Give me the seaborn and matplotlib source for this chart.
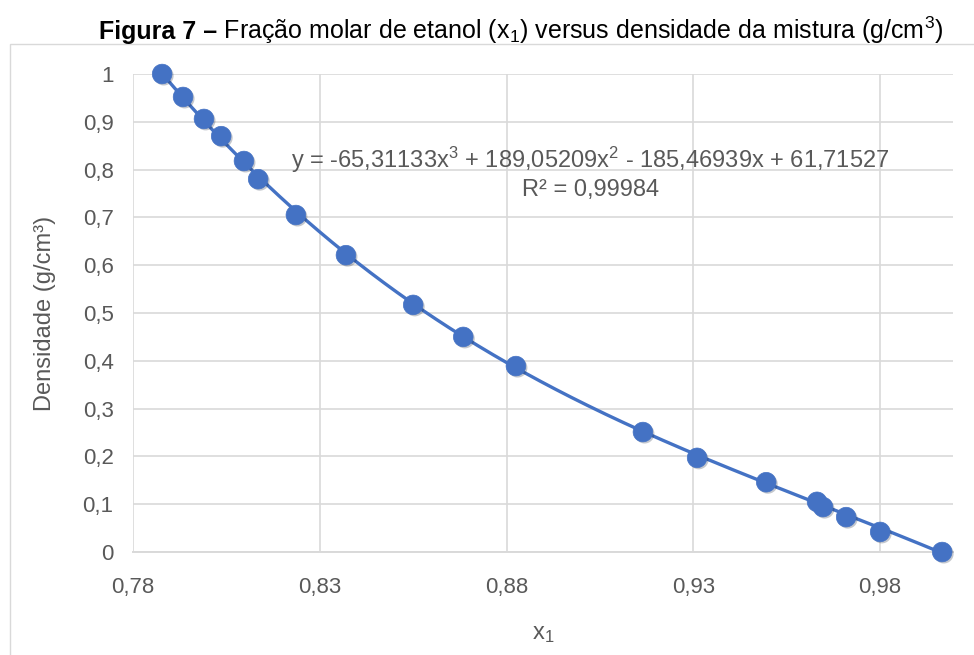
import numpy as np
import pandas as pd
import matplotlib
matplotlib.use("Agg")
import matplotlib.pyplot as plt
import matplotlib.patheffects as pe
from matplotlib.ticker import FixedLocator, FuncFormatter
import seaborn as sns

# ---- data ----
x1 = [0.7878, 0.7934, 0.7990, 0.8036, 0.8097, 0.8135, 0.8236, 0.8370, 0.8550,
      0.8684, 0.8825, 0.9165, 0.9310, 0.9495, 0.9631, 0.9647, 0.9709, 0.9800, 0.9966]
densidade = [1.000, 0.952, 0.906, 0.870, 0.818, 0.780, 0.705, 0.621, 0.517,
             0.450, 0.389, 0.251, 0.197, 0.146, 0.105, 0.094, 0.073, 0.042, 0.000]
coef = [-65.31133, 189.05209, -185.46939, 61.71527]
x_ticks = [0.78, 0.83, 0.88, 0.93, 0.98]
y_ticks = [0, 0.1, 0.2, 0.3, 0.4, 0.5, 0.6, 0.7, 0.8, 0.9, 1.0]
eq_text = "y = -65,31133x$^3$ + 189,05209x$^2$ - 185,46939x + 61,71527\nR² = 0,99984"
title_bold = "Figura 7 –"
title_rest = " Fração molar de etanol (x$_1$) versus densidade da mistura (g/cm$^3$)"

sns.set_theme(style="white")
plt.rcParams['font.family'] = ['Liberation Sans', 'DejaVu Sans']
plt.rcParams['mathtext.fontset'] = 'custom'
plt.rcParams['mathtext.rm'] = 'Liberation Sans'
plt.rcParams['mathtext.it'] = 'Liberation Sans'
plt.rcParams['mathtext.bf'] = 'Liberation Sans:bold'
plt.rcParams['mathtext.default'] = 'regular'

BLUE = "#4472C4"
GRID = "#D9D9D9"
TXT = "#595959"

df = pd.DataFrame({"x1": x1, "dens": densidade})
xs = np.linspace(min(x1), max(x1), 300)
curve = pd.DataFrame({"x": xs, "y": np.polyval(coef, xs)})

fig = plt.figure(figsize=(9.74, 6.55), dpi=100)
# chart frame
fig.patches.append(plt.Rectangle((10/974, -0.1), 1.2, 1 - 44/655 + 0.1,
                                 transform=fig.transFigure, fill=False,
                                 edgecolor=GRID, linewidth=1.0))
ax = fig.add_axes([133/974, 1 - 552/655, (953 - 133)/974, (552 - 74)/655])

sns.lineplot(data=curve, x="x", y="y", ax=ax, color=BLUE, linewidth=2.4, zorder=2)
sns.scatterplot(data=df, x="x1", y="dens", ax=ax, color=BLUE, s=200,
                edgecolor=BLUE, linewidth=0.5, zorder=3, clip_on=False,
                path_effects=[pe.SimplePatchShadow(offset=(1.2, -1.2), alpha=0.25),
                              pe.Normal()])

ax.set_xlim(0.78, 0.9995)
ax.set_ylim(0, 1.0)
ax.xaxis.set_major_locator(FixedLocator(x_ticks))
ax.yaxis.set_major_locator(FixedLocator(y_ticks))
ax.xaxis.set_major_formatter(FuncFormatter(lambda v, p: f"{v:.2f}".replace(".", ",")))
ax.yaxis.set_major_formatter(FuncFormatter(
    lambda v, p: "0" if abs(v) < 1e-9 else ("1" if abs(v - 1) < 1e-9 else f"{v:.1f}".replace(".", ","))))
ax.grid(True, color=GRID, linewidth=1.2)
ax.set_axisbelow(True)
for s in ["top", "right", "left"]:
    ax.spines[s].set_visible(False)
ax.spines["bottom"].set_color(GRID)
ax.spines["bottom"].set_linewidth(1.4)
ax.tick_params(axis="both", length=0, labelsize=16, labelcolor=TXT)
ax.tick_params(axis="x", pad=18)
ax.tick_params(axis="y", pad=14)

ax.set_xlabel("x$_1$", fontsize=17, color=TXT, labelpad=18)
ax.set_ylabel("Densidade (g/cm³)", fontsize=17, color=TXT, labelpad=19)

ax.text(0.9024, 0.793, eq_text, ha="center", va="center", fontsize=17,
        color=TXT, linespacing=1.25)

# title with bold prefix
t1 = fig.text(0, 0, title_bold, fontsize=18, fontweight="bold", color="black")
t2 = fig.text(0, 0, title_rest, fontsize=18, color="black")
fig.canvas.draw()
r = fig.canvas.get_renderer()
w1 = t1.get_window_extent(r).width
w2 = t2.get_window_extent(r).width
W = fig.bbox.width
start = 521 - (w1 + w2) / 2
ty = 1 - 39/655
t1.set_position((start / W, ty))
t2.set_position(((start + w1) / W, ty))

fig.savefig("out.png", dpi=100)
